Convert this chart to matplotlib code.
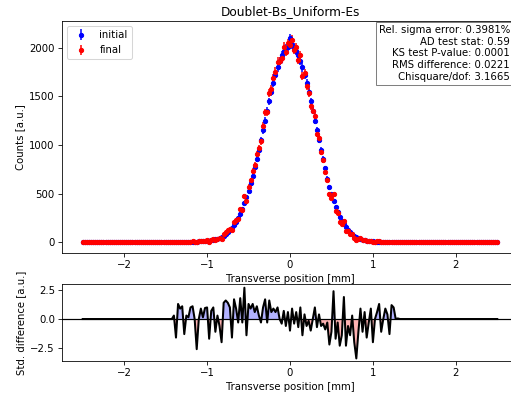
import numpy as np
import matplotlib
matplotlib.use('Agg')
import matplotlib.pyplot as plt

# transverse position grid [mm], 201 bins
position = np.linspace(-2.5, 2.5, 201)

# counts (bins 43..150 are non-zero)
initial = [0] * 43 + [
    1, 1, 1, 1, 1, 2, 2, 2, 3, 3,
    4, 4, 5, 6, 7, 8, 9, 11, 13, 17,
    21, 27, 34, 43, 53, 66, 81, 99, 120, 146,
    175, 209, 248, 293, 343, 399, 461, 529, 604, 683,
    769, 859, 953, 1051, 1150, 1251, 1352, 1451, 1546, 1637,
    1722, 1799, 1866, 1924, 1970, 1995, 2010, 2100, 2030, 2003,
    1970, 1924, 1866, 1799, 1722, 1637, 1546, 1451, 1352, 1251,
    1150, 1051, 953, 859, 760, 650, 565, 490, 420, 362,
    310, 262, 220, 183, 150, 123, 100, 80, 64, 50,
    40, 31, 24, 18, 14, 11, 8, 6, 5, 4,
    3, 2, 2, 1, 1, 1, 1, 1] + [0] * 50

final = [0] * 43 + [
    1, 1, 0, 3, 2, 4, 0, 3, 3, 5,
    7, 4, 1, 6, 10, 9, 13, 16, 4, 21,
    27, 19, 36, 37, 32, 82, 101, 119, 135, 119,
    207, 227, 241, 337, 335, 475, 418, 571, 635, 731,
    793, 905, 966, 1037, 1198, 1336, 1336, 1537, 1579, 1688,
    1757, 1859, 1866, 1899, 2014, 1957, 2048, 2035, 2087, 1978,
    2008, 1881, 1927, 1715, 1745, 1603, 1538, 1397, 1352, 1301,
    1116, 1069, 927, 842, 725, 639, 491, 456, 490, 316,
    303, 209, 191, 219, 110, 114, 80, 84, 41, 16,
    30, 38, 16, 22, 6, 10, 12, 0, 5, 6,
    6, 0, 2, 2, 1, 0, 3, 2] + [0] * 50

std_diff = [0.0] * 43 + [
    0.0, 0.3, -1.6, 1.3, 0.9, 1.1, -1.3, 0.3, 0.15, 1.0,
    1.1, 0.0, -2.6, 0.0, 0.9, 0.15, 0.95, 1.0, -1.7, 0.7,
    1.0, -1.1, 0.3, -0.6, -2.0, 1.4, 1.6, 1.4, 1.0, -1.6,
    1.7, 0.9, -0.3, 1.8, -0.3, 2.7, -1.4, 1.3, 0.9, 1.3,
    0.6, 1.1, 0.3, -0.3, 1.0, 1.7, -0.3, 1.6, 0.6, 0.9,
    0.6, 1.0, 0.0, -0.4, 0.7, -0.6, 0.6, -1.0, 0.9, -0.4,
    0.6, -0.7, 1.0, -1.4, 0.4, -0.6, -0.15, -1.0, 0.0, 1.0,
    -0.7, 0.4, -0.6, -0.4, -0.9, -0.3, -2.2, -1.1, 2.4, -1.7,
    -0.3, -2.3, -1.4, 1.9, -2.3, -0.6, -1.4, 0.3, -2.0, -3.4,
    -1.1, 0.9, -1.1, 0.6, -1.6, -0.3, 0.9, -2.0, 0.0, 0.6,
    1.3, -1.1, 0.0, 0.9, 0.4, -1.3, 1.2, 1.0, 0.0, 0.05] + [0.0] * 48

stats_text = ('Rel. sigma error: 0.3981%\n'
              'AD test stat: 0.59\n'
              'KS test P-value: 0.0001\n'
              'RMS difference: 0.0221\n'
              'Chisquare/dof: 3.1665')

initial = np.array(initial, dtype=float)
final = np.array(final, dtype=float)
std_diff = np.array(std_diff)

# low dpi so the default text sizes come out as small as in the reference
DPI = 73
fig = plt.figure(figsize=(511 / DPI, 396 / DPI), dpi=DPI)
ax = fig.add_axes([0.1213, 0.3611, 0.8924, 0.5859])
ax2 = fig.add_axes([0.1213, 0.0884, 0.8924, 0.1944])

ax.errorbar(position, initial, yerr=np.sqrt(initial), fmt='o', color='b',
            ms=4.2, elinewidth=1.5, label='initial')
ax.errorbar(position, final, yerr=np.sqrt(final), fmt='o', color='r',
            ms=4.2, elinewidth=1.5, label='final')
ax.set_xlim(-2.75, 2.75)
ax.set_ylim(-113, 2278)
ax.set_title('Doublet-Bs_Uniform-Es')
ax.set_xlabel('Transverse position [mm]')
ax.set_ylabel('Counts [a.u.]')
ax.legend(loc='upper left')
ax.text(0.982, 0.982, stats_text, transform=ax.transAxes, ha='right',
        va='top', multialignment='right',
        bbox=dict(boxstyle='square,pad=0.3', facecolor='white',
                  edgecolor='gray'))

ax2.axhline(0, color='k', lw=1.2)
ax2.fill_between(position, 0, std_diff, where=std_diff > 0, color='b',
                 alpha=0.3, interpolate=True, lw=0)
ax2.fill_between(position, 0, std_diff, where=std_diff < 0, color='r',
                 alpha=0.3, interpolate=True, lw=0)
ax2.plot(position, std_diff, color='k', lw=2)
ax2.set_xlim(-2.75, 2.75)
ax2.set_ylim(-3.62, 3.02)
ax2.set_xlabel('Transverse position [mm]')
ax2.set_ylabel('Std. difference [a.u.]')

fig.savefig('out.png', dpi=DPI)
plt.close(fig)
